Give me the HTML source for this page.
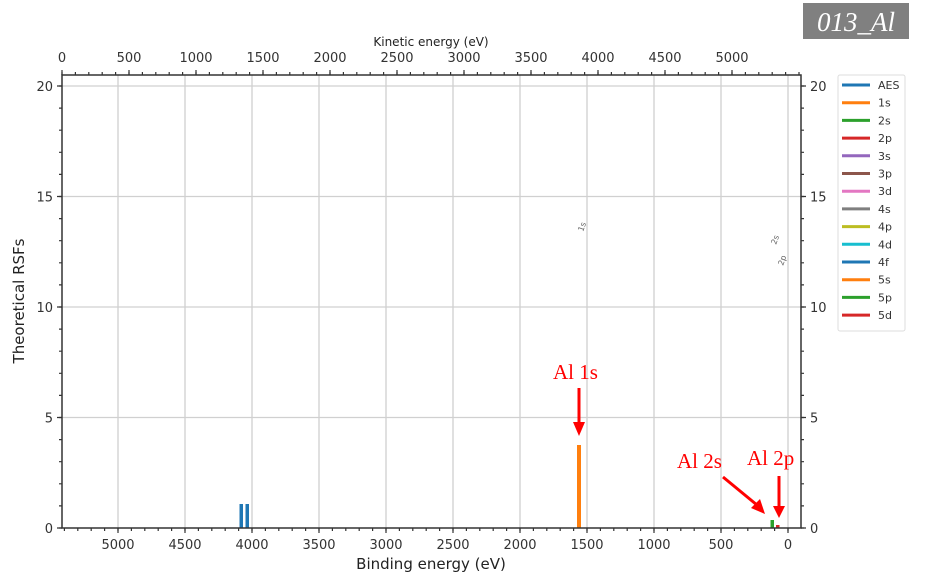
<!DOCTYPE html>
<html><head><meta charset="utf-8"><style>
body{margin:0;background:#fff;}
svg{display:block;font-family:"DejaVu Sans","Liberation Sans",sans-serif;}
</style></head><body>
<svg width="932" height="583" viewBox="0 0 932 583" xmlns="http://www.w3.org/2000/svg">
<rect width="932" height="583" fill="#fff"/>
<rect x="803" y="3" width="106" height="36" fill="#808080"/>
<text x="856" y="31" text-anchor="middle" font-family="Liberation Serif,serif" font-style="italic" font-size="27" fill="#fff">013_Al</text>
<g stroke="#d0d0d0" stroke-width="1.3">
<line x1="118" y1="75" x2="118" y2="528"/><line x1="185" y1="75" x2="185" y2="528"/>
<line x1="252" y1="75" x2="252" y2="528"/><line x1="319" y1="75" x2="319" y2="528"/>
<line x1="386" y1="75" x2="386" y2="528"/><line x1="453" y1="75" x2="453" y2="528"/>
<line x1="520" y1="75" x2="520" y2="528"/><line x1="587" y1="75" x2="587" y2="528"/>
<line x1="654" y1="75" x2="654" y2="528"/><line x1="721" y1="75" x2="721" y2="528"/>
<line x1="788" y1="75" x2="788" y2="528"/>
<line x1="62" y1="86" x2="801" y2="86"/><line x1="62" y1="196.5" x2="801" y2="196.5"/>
<line x1="62" y1="307" x2="801" y2="307"/><line x1="62" y1="417.5" x2="801" y2="417.5"/>
</g>
<rect x="239.5" y="504" width="3.5" height="24" fill="#1f77b4"/>
<rect x="245.5" y="504" width="3.5" height="24" fill="#1f77b4"/>
<rect x="577" y="445" width="4" height="83" fill="#ff7f0e"/>
<rect x="770.5" y="520" width="3.5" height="8" fill="#2ca02c"/>
<rect x="776" y="525" width="3.5" height="3" fill="#d62728"/>
<rect x="62" y="75" width="739" height="453" fill="none" stroke="#333" stroke-width="1.5"/>
<!-- minor ticks -->
<g stroke="#333" stroke-width="3" stroke-dasharray="1.2 12.2">
<line x1="788.6" y1="529.5" x2="62" y2="529.5"/>
<line x1="61.4" y1="73.5" x2="801" y2="73.5"/>
</g>
<g stroke="#333" stroke-width="3" stroke-dasharray="1.2 20.9">
<line x1="60.5" y1="528.6" x2="60.5" y2="75"/>
<line x1="802.5" y1="528.6" x2="802.5" y2="75"/>
</g>
<g stroke="#333" stroke-width="1.2">
<path d="M118 528v5M185 528v5M252 528v5M319 528v5M386 528v5M453 528v5M520 528v5M587 528v5M654 528v5M721 528v5M788 528v5"/>
<path d="M62 75v-5M129 75v-5M196 75v-5M263 75v-5M330 75v-5M397 75v-5M464 75v-5M531 75v-5M598 75v-5M665 75v-5M732 75v-5"/>
<path d="M62 86h-5M62 196.5h-5M62 307h-5M62 417.5h-5M62 528h-5"/>
<path d="M801 86h5M801 196.5h5M801 307h5M801 417.5h5M801 528h5"/>
</g>
<g fill="#333" font-size="13">
<g text-anchor="middle">
<text x="118" y="549">5000</text><text x="185" y="549">4500</text><text x="252" y="549">4000</text>
<text x="319" y="549">3500</text><text x="386" y="549">3000</text><text x="453" y="549">2500</text>
<text x="520" y="549">2000</text><text x="587" y="549">1500</text><text x="654" y="549">1000</text>
<text x="721" y="549">500</text><text x="788" y="549">0</text>
<text x="62" y="62">0</text><text x="129" y="62">500</text><text x="196" y="62">1000</text>
<text x="263" y="62">1500</text><text x="330" y="62">2000</text><text x="397" y="62">2500</text>
<text x="464" y="62">3000</text><text x="531" y="62">3500</text><text x="598" y="62">4000</text>
<text x="665" y="62">4500</text><text x="732" y="62">5000</text>
</g>
<g text-anchor="end">
<text x="53" y="91">20</text><text x="53" y="201.5">15</text><text x="53" y="312">10</text>
<text x="53" y="422.5">5</text><text x="53" y="533">0</text>
</g>
<text x="810" y="91">20</text><text x="810" y="201.5">15</text><text x="810" y="312">10</text>
<text x="810" y="422.5">5</text><text x="810" y="533">0</text>
</g>
<text x="431" y="569" text-anchor="middle" font-size="15" fill="#222">Binding energy (eV)</text>
<text x="431" y="46" text-anchor="middle" font-size="12" fill="#222">Kinetic energy (eV)</text>
<text transform="translate(24 301) rotate(-90)" text-anchor="middle" font-size="15" fill="#222">Theoretical RSFs</text>
<g font-size="8" fill="#666">
<text transform="translate(583 232) rotate(-70)">1s</text>
<text transform="translate(776 245) rotate(-70)">2s</text>
<text transform="translate(783 266) rotate(-70)">2p</text>
</g>
<rect x="838" y="75" width="67" height="256" rx="2" fill="#fff" stroke="#ddd"/>
<g stroke-width="3">
<line x1="842" y1="85" x2="870" y2="85" stroke="#1f77b4"/>
<line x1="842" y1="102.7" x2="870" y2="102.7" stroke="#ff7f0e"/>
<line x1="842" y1="120.4" x2="870" y2="120.4" stroke="#2ca02c"/>
<line x1="842" y1="138.1" x2="870" y2="138.1" stroke="#d62728"/>
<line x1="842" y1="155.8" x2="870" y2="155.8" stroke="#9467bd"/>
<line x1="842" y1="173.5" x2="870" y2="173.5" stroke="#8c564b"/>
<line x1="842" y1="191.2" x2="870" y2="191.2" stroke="#e377c2"/>
<line x1="842" y1="208.9" x2="870" y2="208.9" stroke="#7f7f7f"/>
<line x1="842" y1="226.6" x2="870" y2="226.6" stroke="#bcbd22"/>
<line x1="842" y1="244.3" x2="870" y2="244.3" stroke="#17becf"/>
<line x1="842" y1="262" x2="870" y2="262" stroke="#1f77b4"/>
<line x1="842" y1="279.7" x2="870" y2="279.7" stroke="#ff7f0e"/>
<line x1="842" y1="297.4" x2="870" y2="297.4" stroke="#2ca02c"/>
<line x1="842" y1="315.1" x2="870" y2="315.1" stroke="#d62728"/>
</g>
<g font-size="11" fill="#333">
<text x="878" y="89">AES</text><text x="878" y="106.7">1s</text><text x="878" y="124.4">2s</text>
<text x="878" y="142.1">2p</text><text x="878" y="159.8">3s</text><text x="878" y="177.5">3p</text>
<text x="878" y="195.2">3d</text><text x="878" y="212.9">4s</text><text x="878" y="230.6">4p</text>
<text x="878" y="248.3">4d</text><text x="878" y="266">4f</text><text x="878" y="283.7">5s</text>
<text x="878" y="301.4">5p</text><text x="878" y="319.1">5d</text>
</g>
<g font-family="Liberation Serif,serif" font-size="21" fill="#f00">
<text x="553" y="379">Al 1s</text>
<text x="677" y="468">Al 2s</text>
<text x="747" y="465">Al 2p</text>
</g>
<g fill="#f00" stroke="#f00">
<line x1="579" y1="388" x2="579" y2="424" stroke-width="3"/>
<polygon points="573,422 585,422 579,436" stroke="none"/>
<line x1="779" y1="476" x2="779" y2="508" stroke-width="3"/>
<polygon points="773,506 785,506 779,518" stroke="none"/>
<line x1="723" y1="477" x2="757" y2="505" stroke-width="3"/>
<polygon points="751,508 760,499 765,514" stroke="none"/>
</g>
</svg>
</body></html>
